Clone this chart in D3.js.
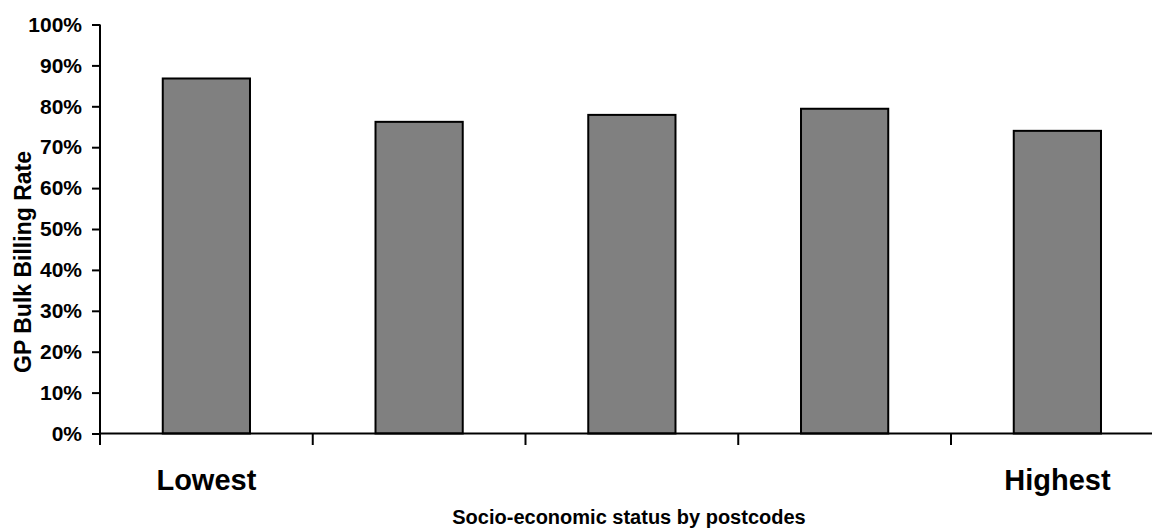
<!DOCTYPE html>
<html>
<head>
<meta charset="utf-8">
<script src="https://cdn.jsdelivr.net/npm/d3@7"></script>
<style>
  html, body { margin: 0; padding: 0; background: #fff; }
  svg { display: block; }
  text { font-family: "Liberation Sans", Arial, sans-serif; font-weight: bold; fill: #000; }
</style>
</head>
<body>
<svg id="chart" width="1152" height="529"></svg>
<script>
// Socio-economic quintiles (by postcode) and GP bulk billing rates
const categories = ["Q1", "Q2", "Q3", "Q4", "Q5"];
const categoryLabels = ["Lowest", "", "", "", "Highest"];
const bulkBillingRate = [0.868, 0.762, 0.779, 0.794, 0.740];
const yTicks = [0, 0.1, 0.2, 0.3, 0.4, 0.5, 0.6, 0.7, 0.8, 0.9, 1.0];

const svg = d3.select("#chart");
const plotLeft = 100, plotRight = 1163.75, plotTop = 24.5, plotBottom = 433.5;

const y = d3.scaleLinear().domain([0, 1]).range([plotBottom, plotTop]);
// full-width category slots (used for tick marks between categories)
const slots = d3.scaleBand().domain(categories).range([plotLeft, plotRight]).padding(0);
// bars sit centred in each slot
const x = d3.scaleBand().domain(categories).range([plotLeft, plotRight])
  .paddingInner(0.59).paddingOuter(0.295);

// bars
svg.append("g")
  .selectAll("rect")
  .data(bulkBillingRate)
  .join("rect")
  .attr("x", (d, i) => x(categories[i]))
  .attr("y", d => y(d))
  .attr("width", x.bandwidth())
  .attr("height", d => y(0) - y(d))
  .attr("fill", "#808080")
  .attr("stroke", "#000")
  .attr("stroke-width", 2);

// y axis
const yAxis = svg.append("g")
  .attr("transform", `translate(${plotLeft},0)`)
  .call(d3.axisLeft(y).tickValues(yTicks).tickFormat(d3.format(".0%")).tickSize(8).tickPadding(10));
yAxis.select(".domain").remove();
yAxis.selectAll(".tick line").attr("stroke", "#000").attr("stroke-width", 2);
yAxis.selectAll(".tick text").style("font-size", "21px");

// x axis: ticks at slot boundaries, labels centred under slots
const boundaries = categories.map(c => slots(c));
const xAxisG = svg.append("g");
xAxisG.selectAll("line.tk")
  .data(boundaries)
  .join("line")
  .attr("class", "tk")
  .attr("x1", d => d).attr("x2", d => d)
  .attr("y1", plotBottom).attr("y2", plotBottom + 11.5)
  .attr("stroke", "#000").attr("stroke-width", 2);
xAxisG.selectAll("text")
  .data(categoryLabels)
  .join("text")
  .attr("x", (d, i) => slots(categories[i]) + slots.bandwidth() / 2)
  .attr("y", 490)
  .attr("text-anchor", "middle")
  .style("font-size", "29px")
  .text(d => d);

// axis lines
svg.append("line")
  .attr("x1", plotLeft).attr("x2", plotLeft)
  .attr("y1", plotTop).attr("y2", plotBottom + 11.5)
  .attr("stroke", "#000").attr("stroke-width", 2);
svg.append("line")
  .attr("x1", plotLeft).attr("x2", plotRight)
  .attr("y1", plotBottom).attr("y2", plotBottom)
  .attr("stroke", "#000").attr("stroke-width", 2);

// axis titles
svg.append("text")
  .attr("x", 629)
  .attr("y", 524)
  .attr("text-anchor", "middle")
  .style("font-size", "20px")
  .text("Socio-economic status by postcodes");

svg.append("text")
  .attr("transform", "translate(31,262) rotate(-90)")
  .attr("text-anchor", "middle")
  .style("font-size", "23px")
  .text("GP Bulk Billing Rate");
</script>
</body>
</html>
